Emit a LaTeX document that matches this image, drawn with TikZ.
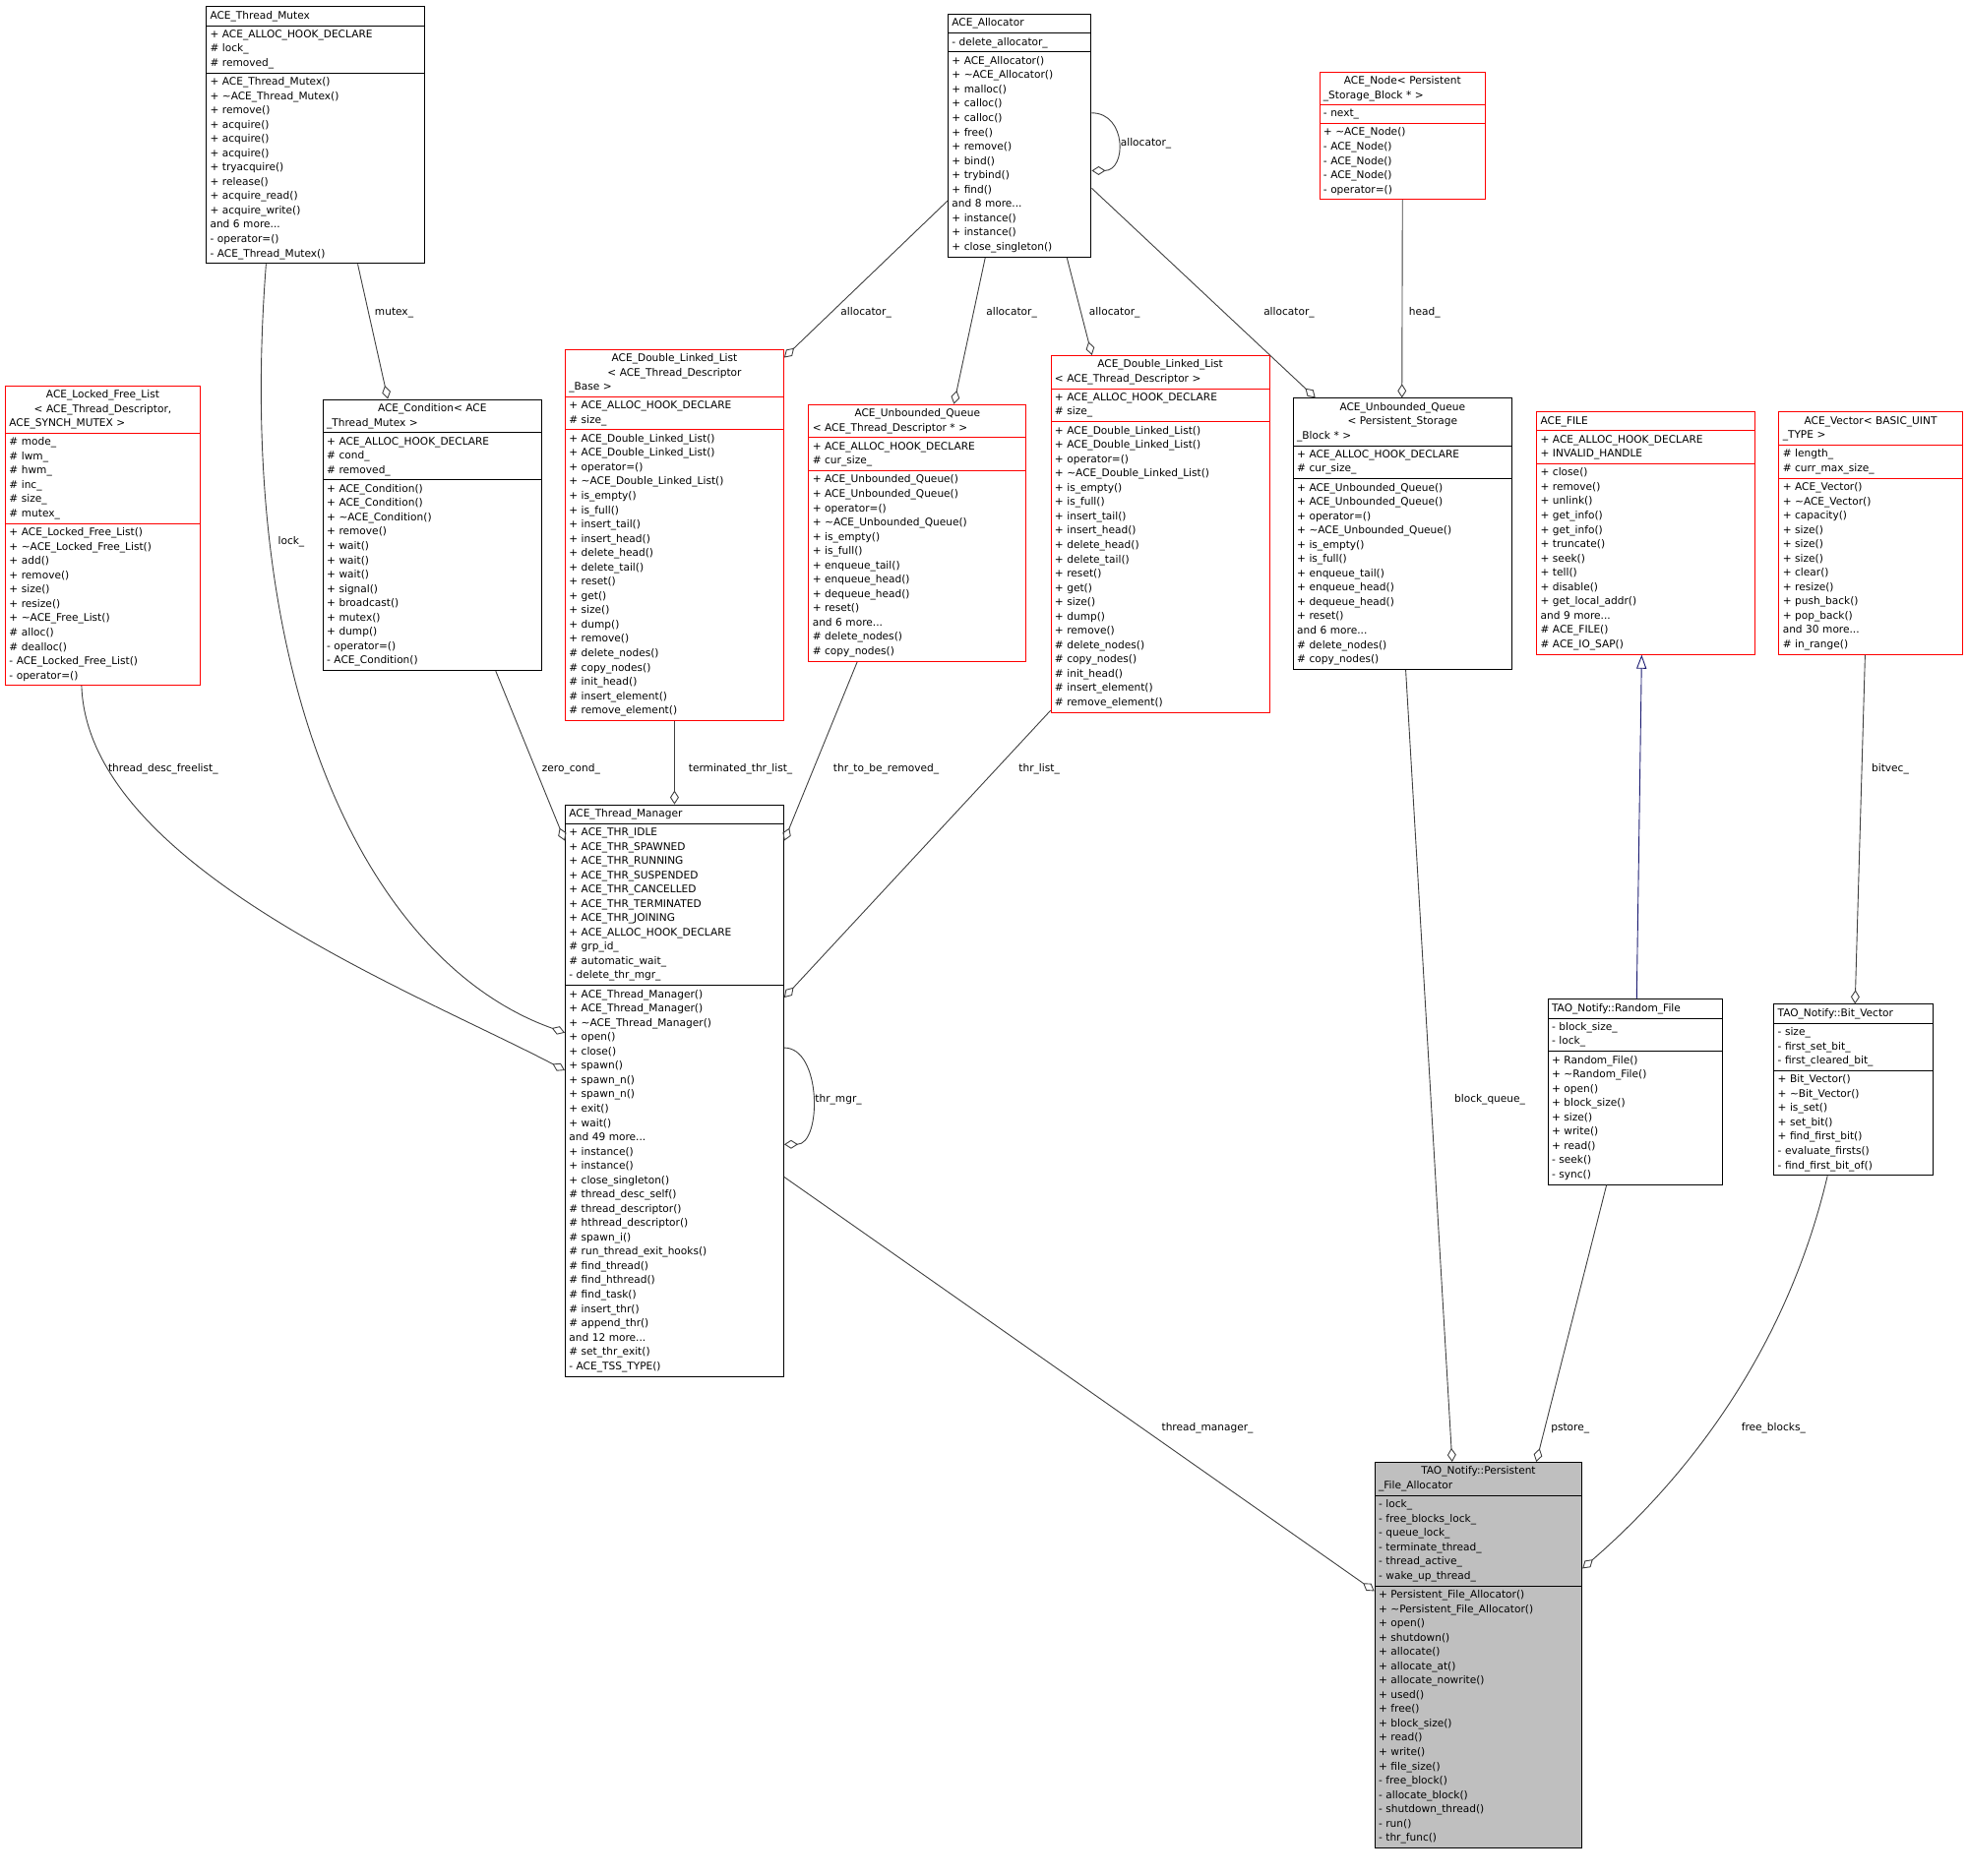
\documentclass[tikz,border=0pt]{standalone}
\usepackage{fontspec}
\setmainfont{DejaVu Sans}
\usetikzlibrary{shapes.multipart,arrows.meta}
\begin{document}
\begin{tikzpicture}[x=1pt,y=1pt,
 cls/.style={draw, line width=0.8pt, rectangle split, rectangle split parts=3, align=left, anchor=north west,
   inner xsep=3pt, inner ysep=3pt, font=\fontsize{8.3}{11.4}\selectfont, fill=white},
 redc/.style={cls, draw=red},
 edge/.style={draw=black!75, line width=0.7pt},
 agg/.style={edge, -{Diamond[open,length=11pt,width=7pt]}},
 lbl/.style={font=\fontsize{8.3}{10}\selectfont, inner sep=1pt}]
\useasboundingbox (0,0) rectangle (1568,-1495);
\fill[white] (0,0) rectangle (1568,-1495);

\node[cls, text width=168pt] (mutex) at (164,-5) {\centering ACE\_Thread\_Mutex\nodepart{two}+ ACE\_ALLOC\_HOOK\_DECLARE\\\# lock\_\\\# removed\_\nodepart{three}+ ACE\_Thread\_Mutex()\\+ \textasciitilde ACE\_Thread\_Mutex()\\+ remove()\\+ acquire()\\+ acquire()\\+ acquire()\\+ tryacquire()\\+ release()\\+ acquire\_read()\\+ acquire\_write()\\and 6 more...\\- operator=()\\- ACE\_Thread\_Mutex()};

\node[cls, text width=108pt] (alloc) at (755,-11) {\centering ACE\_Allocator\nodepart{two}- delete\_allocator\_\nodepart{three}+ ACE\_Allocator()\\+ \textasciitilde ACE\_Allocator()\\+ malloc()\\+ calloc()\\+ calloc()\\+ free()\\+ remove()\\+ bind()\\+ trybind()\\+ find()\\and 8 more...\\+ instance()\\+ instance()\\+ close\_singleton()};

\node[redc, text width=126pt] (anode) at (1051,-57) {\centering ACE\_Node< Persistent\\\_Storage\_Block * >\nodepart{two}- next\_\nodepart{three}+ \textasciitilde ACE\_Node()\\- ACE\_Node()\\- ACE\_Node()\\- ACE\_Node()\\- operator=()};

\node[redc, text width=149pt] (lfl) at (4,-307) {\centering ACE\_Locked\_Free\_List\\< ACE\_Thread\_Descriptor,\\ ACE\_SYNCH\_MUTEX >\nodepart{two}\# mode\_\\\# lwm\_\\\# hwm\_\\\# inc\_\\\# size\_\\\# mutex\_\nodepart{three}+ ACE\_Locked\_Free\_List()\\+ \textasciitilde ACE\_Locked\_Free\_List()\\+ add()\\+ remove()\\+ size()\\+ resize()\\+ \textasciitilde ACE\_Free\_List()\\\# alloc()\\\# dealloc()\\- ACE\_Locked\_Free\_List()\\- operator=()};

\node[cls, text width=168pt] (cond) at (257,-318) {\centering ACE\_Condition< ACE\\\_Thread\_Mutex >\nodepart{two}+ ACE\_ALLOC\_HOOK\_DECLARE\\\# cond\_\\\# removed\_\nodepart{three}+ ACE\_Condition()\\+ ACE\_Condition()\\+ \textasciitilde ACE\_Condition()\\+ remove()\\+ wait()\\+ wait()\\+ wait()\\+ signal()\\+ broadcast()\\+ mutex()\\+ dump()\\- operator=()\\- ACE\_Condition()};

\node[redc, text width=168pt] (dllb) at (450,-278) {\centering ACE\_Double\_Linked\_List\\< ACE\_Thread\_Descriptor\\\_Base >\nodepart{two}+ ACE\_ALLOC\_HOOK\_DECLARE\\\# size\_\nodepart{three}+ ACE\_Double\_Linked\_List()\\+ ACE\_Double\_Linked\_List()\\+ operator=()\\+ \textasciitilde ACE\_Double\_Linked\_List()\\+ is\_empty()\\+ is\_full()\\+ insert\_tail()\\+ insert\_head()\\+ delete\_head()\\+ delete\_tail()\\+ reset()\\+ get()\\+ size()\\+ dump()\\+ remove()\\\# delete\_nodes()\\\# copy\_nodes()\\\# init\_head()\\\# insert\_element()\\\# remove\_element()};

\node[redc, text width=167pt] (uqtd) at (644,-322) {\centering ACE\_Unbounded\_Queue\\< ACE\_Thread\_Descriptor * >\nodepart{two}+ ACE\_ALLOC\_HOOK\_DECLARE\\\# cur\_size\_\nodepart{three}+ ACE\_Unbounded\_Queue()\\+ ACE\_Unbounded\_Queue()\\+ operator=()\\+ \textasciitilde ACE\_Unbounded\_Queue()\\+ is\_empty()\\+ is\_full()\\+ enqueue\_tail()\\+ enqueue\_head()\\+ dequeue\_head()\\+ reset()\\and 6 more...\\\# delete\_nodes()\\\# copy\_nodes()};

\node[redc, text width=168pt] (dlltd) at (837,-283) {\centering ACE\_Double\_Linked\_List\\< ACE\_Thread\_Descriptor >\nodepart{two}+ ACE\_ALLOC\_HOOK\_DECLARE\\\# size\_\nodepart{three}+ ACE\_Double\_Linked\_List()\\+ ACE\_Double\_Linked\_List()\\+ operator=()\\+ \textasciitilde ACE\_Double\_Linked\_List()\\+ is\_empty()\\+ is\_full()\\+ insert\_tail()\\+ insert\_head()\\+ delete\_head()\\+ delete\_tail()\\+ reset()\\+ get()\\+ size()\\+ dump()\\+ remove()\\\# delete\_nodes()\\\# copy\_nodes()\\\# init\_head()\\\# insert\_element()\\\# remove\_element()};

\node[cls, text width=168pt] (uqpsb) at (1030,-317) {\centering ACE\_Unbounded\_Queue\\< Persistent\_Storage\\\_Block * >\nodepart{two}+ ACE\_ALLOC\_HOOK\_DECLARE\\\# cur\_size\_\nodepart{three}+ ACE\_Unbounded\_Queue()\\+ ACE\_Unbounded\_Queue()\\+ operator=()\\+ \textasciitilde ACE\_Unbounded\_Queue()\\+ is\_empty()\\+ is\_full()\\+ enqueue\_tail()\\+ enqueue\_head()\\+ dequeue\_head()\\+ reset()\\and 6 more...\\\# delete\_nodes()\\\# copy\_nodes()};

\node[redc, text width=168pt] (afile) at (1224,-328) {\centering ACE\_FILE\nodepart{two}+ ACE\_ALLOC\_HOOK\_DECLARE\\+ INVALID\_HANDLE\nodepart{three}+ close()\\+ remove()\\+ unlink()\\+ get\_info()\\+ get\_info()\\+ truncate()\\+ seek()\\+ tell()\\+ disable()\\+ get\_local\_addr()\\and 9 more...\\\# ACE\_FILE()\\\# ACE\_IO\_SAP()};

\node[redc, text width=140pt] (avec) at (1417,-328) {\centering ACE\_Vector< BASIC\_UINT\\\_TYPE >\nodepart{two}\# length\_\\\# curr\_max\_size\_\nodepart{three}+ ACE\_Vector()\\+ \textasciitilde ACE\_Vector()\\+ capacity()\\+ size()\\+ size()\\+ size()\\+ clear()\\+ resize()\\+ push\_back()\\+ pop\_back()\\and 30 more...\\\# in\_range()};

\node[cls, text width=168pt] (tm) at (450,-641) {\centering ACE\_Thread\_Manager\nodepart{two}+ ACE\_THR\_IDLE\\+ ACE\_THR\_SPAWNED\\+ ACE\_THR\_RUNNING\\+ ACE\_THR\_SUSPENDED\\+ ACE\_THR\_CANCELLED\\+ ACE\_THR\_TERMINATED\\+ ACE\_THR\_JOINING\\+ ACE\_ALLOC\_HOOK\_DECLARE\\\# grp\_id\_\\\# automatic\_wait\_\\- delete\_thr\_mgr\_\nodepart{three}+ ACE\_Thread\_Manager()\\+ ACE\_Thread\_Manager()\\+ \textasciitilde ACE\_Thread\_Manager()\\+ open()\\+ close()\\+ spawn()\\+ spawn\_n()\\+ spawn\_n()\\+ exit()\\+ wait()\\and 49 more...\\+ instance()\\+ instance()\\+ close\_singleton()\\\# thread\_desc\_self()\\\# thread\_descriptor()\\\# hthread\_descriptor()\\\# spawn\_i()\\\# run\_thread\_exit\_hooks()\\\# find\_thread()\\\# find\_hthread()\\\# find\_task()\\\# insert\_thr()\\\# append\_thr()\\and 12 more...\\\# set\_thr\_exit()\\- ACE\_TSS\_TYPE()};

\node[cls, text width=133pt] (rf) at (1233,-796) {\centering TAO\_Notify::Random\_File\nodepart{two}- block\_size\_\\- lock\_\nodepart{three}+ Random\_File()\\+ \textasciitilde Random\_File()\\+ open()\\+ block\_size()\\+ size()\\+ write()\\+ read()\\- seek()\\- sync()};

\node[cls, text width=121pt] (bv) at (1413,-800) {\centering TAO\_Notify::Bit\_Vector\nodepart{two}- size\_\\- first\_set\_bit\_\\- first\_cleared\_bit\_\nodepart{three}+ Bit\_Vector()\\+ \textasciitilde Bit\_Vector()\\+ is\_set()\\+ set\_bit()\\+ find\_first\_bit()\\- evaluate\_firsts()\\- find\_first\_bit\_of()};

\node[cls, text width=159pt, fill=black!25] (pfa) at (1095,-1165) {\centering TAO\_Notify::Persistent\\\_File\_Allocator\nodepart{two}- lock\_\\- free\_blocks\_lock\_\\- queue\_lock\_\\- terminate\_thread\_\\- thread\_active\_\\- wake\_up\_thread\_\nodepart{three}+ Persistent\_File\_Allocator()\\+ \textasciitilde Persistent\_File\_Allocator()\\+ open()\\+ shutdown()\\+ allocate()\\+ allocate\_at()\\+ allocate\_nowrite()\\+ used()\\+ free()\\+ block\_size()\\+ read()\\+ write()\\+ file\_size()\\- free\_block()\\- allocate\_block()\\- shutdown\_thread()\\- run()\\- thr\_func()};

% connectors
\path[agg] ([xshift=121]mutex.south west) -- ([xshift=52]cond.north west);
\path[agg] ([xshift=48]mutex.south west) .. controls (185,-560) and (300,-770) .. ([yshift=-182]tm.north west);
\path[agg] ([xshift=61]lfl.south west) .. controls (70,-690) and (330,-790) .. ([yshift=-212]tm.north west);
\path[agg] ([xshift=138]cond.south west) -- ([yshift=-29]tm.north west);
\path[agg] (dllb.south) -- (tm.north);
\path[agg] ([xshift=39]uqtd.south west) -- ([yshift=-29]tm.north east);
\path[agg] ([yshift=2]dlltd.south west) -- ([yshift=-154]tm.north east);
\path[agg] ([yshift=-194]tm.north east) .. controls +(30,0) and +(30,0) .. ([yshift=-271]tm.north east);
\path[agg] ([yshift=-149]alloc.north west) -- ([yshift=-7]dllb.north east);
\path[agg] ([xshift=30]alloc.south west) -- ([xshift=116]uqtd.north west);
\path[agg] ([xshift=95]alloc.south west) -- ([xshift=33]dlltd.north west);
\path[agg] ([yshift=-139]alloc.north east) -- ([xshift=18]uqpsb.north west);
\path[agg] ([yshift=-79]alloc.north east) .. controls +(28,0) and +(28,0) .. ([yshift=-125]alloc.north east);
\path[agg] (anode.south) -- ([xshift=87]uqpsb.north west);
\draw[line width=0.7pt, draw={rgb,255:red,25;green,25;blue,112}, -{Triangle[open,length=11pt,width=8pt]}] ([xshift=71]rf.north west) -- ([xshift=84]afile.south west);
\path[agg] ([xshift=69]avec.south west) -- ([xshift=65]bv.north west);
\path[agg] ([yshift=-297]tm.north east) -- ([yshift=-103]pfa.north west);
\path[agg] ([xshift=90]uqpsb.south west) -- ([xshift=62]pfa.north west);
\path[agg] ([xshift=47]rf.south west) -- ([xshift=129]pfa.north west);
\path[agg] ([xshift=43]bv.south west) .. controls (1420,-1090) and (1330,-1190) .. ([yshift=-85]pfa.north east);

% labels
\node[lbl] (l1) at (314,-249) {mutex\_};
\node[lbl] (l2) at (232,-432) {lock\_};
\node[lbl] (l3) at (130,-613) {thread\_desc\_freelist\_};
\node[lbl] (l4) at (455,-613) {zero\_cond\_};
\node[lbl] (l5) at (590,-613) {terminated\_thr\_list\_};
\node[lbl] (l6) at (706,-613) {thr\_to\_be\_removed\_};
\node[lbl] (l7) at (828,-613) {thr\_list\_};
\node[lbl] (l8) at (668,-876) {thr\_mgr\_};
\node[lbl] (l9) at (690,-249) {allocator\_};
\node[lbl] (l10) at (806,-249) {allocator\_};
\node[lbl] (l11) at (888,-249) {allocator\_};
\node[lbl] (l12) at (1027,-249) {allocator\_};
\node[lbl] (l13) at (913,-114) {allocator\_};
\node[lbl] (l14) at (1135,-249) {head\_};
\node[lbl] (l15) at (1506,-613) {bitvec\_};
\node[lbl] (l16) at (962,-1138) {thread\_manager\_};
\node[lbl] (l17) at (1187,-876) {block\_queue\_};
\node[lbl] (l18) at (1251,-1138) {pstore\_};
\node[lbl] (l19) at (1413,-1138) {free\_blocks\_};
\end{tikzpicture}
\end{document}
